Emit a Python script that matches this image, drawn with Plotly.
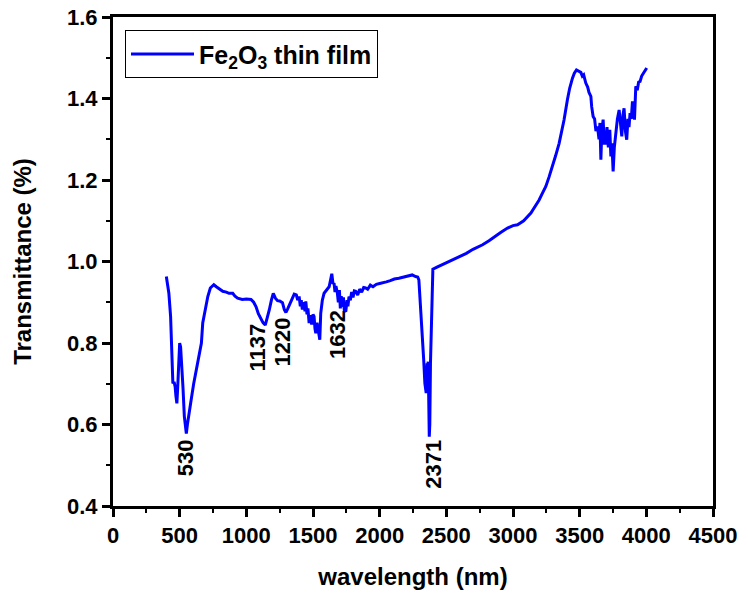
import plotly.graph_objects as go

wavelength = [
    400, 410, 419, 432, 440, 449, 458, 466, 472, 479, 485, 492, 500, 507, 513, 519, 525, 535, 545, 550,
    558, 570, 586, 605, 624, 643, 655, 663, 673, 690, 711, 730, 756, 775, 800, 823, 850, 870, 898, 915,
    935, 970, 1000, 1035, 1055, 1073, 1090, 1110, 1125, 1142, 1155, 1172, 1188, 1202, 1218, 1234, 1250,
    1271, 1285, 1297, 1310, 1322, 1340, 1359, 1375, 1385, 1396, 1405, 1412, 1420, 1430, 1440, 1446, 1455,
    1462, 1471, 1480, 1490, 1500, 1508, 1515, 1521, 1530, 1540, 1551, 1558, 1570, 1583, 1600, 1621, 1632,
    1641, 1650, 1658, 1665, 1672, 1683, 1690, 1698, 1705, 1712, 1720, 1728, 1735, 1746, 1755, 1762, 1770,
    1780, 1790, 1800, 1810, 1820, 1835, 1850, 1865, 1880, 1895, 1910, 1930, 1950, 1975, 2000, 2019, 2050,
    2080, 2110, 2144, 2180, 2215, 2244, 2269, 2285, 2294, 2305, 2319, 2330, 2339, 2345, 2349, 2353, 2356,
    2360, 2364, 2368, 2372, 2376, 2381, 2390, 2399, 2430, 2468, 2520, 2572, 2650, 2700, 2772, 2820, 2859,
    2910, 2959, 3000, 3034, 3080, 3134, 3165, 3196, 3220, 3246, 3270, 3296, 3320, 3346, 3365, 3383, 3408,
    3425, 3446, 3460, 3476, 3490, 3509, 3520, 3530, 3546, 3560, 3570, 3584, 3590, 3601, 3612, 3622, 3634,
    3645, 3652, 3659, 3666, 3676, 3685, 3696, 3705, 3715, 3726, 3734, 3742, 3751, 3760, 3771, 3783, 3796,
    3805, 3816, 3825, 3833, 3843, 3853, 3862, 3870, 3878, 3887, 3896, 3904, 3911, 3921, 3932, 3942, 3953,
    3965, 3978, 3990, 4003,
]

transmittance = [
    0.963, 0.945, 0.922, 0.865, 0.780, 0.701, 0.705, 0.693, 0.670, 0.652, 0.690, 0.760, 0.800, 0.790, 0.760, 0.740, 0.690, 0.620, 0.585, 0.578,
    0.600, 0.630, 0.660, 0.700, 0.734, 0.767, 0.790, 0.800, 0.849, 0.880, 0.914, 0.935, 0.943, 0.938, 0.932, 0.927, 0.925, 0.922, 0.922, 0.915,
    0.910, 0.907, 0.908, 0.907, 0.900, 0.889, 0.872, 0.857, 0.850, 0.844, 0.858, 0.881, 0.905, 0.922, 0.910, 0.904, 0.903,
    0.899, 0.882, 0.875, 0.884, 0.893, 0.910, 0.920, 0.918, 0.905, 0.914, 0.890, 0.905, 0.882, 0.900, 0.878, 0.902, 0.870,
    0.885, 0.849, 0.868, 0.845, 0.870, 0.865, 0.835, 0.824, 0.850, 0.830, 0.808, 0.873, 0.905, 0.922, 0.930, 0.938, 0.955,
    0.970, 0.945, 0.947, 0.925, 0.940, 0.922, 0.900, 0.930, 0.885, 0.915, 0.889, 0.912, 0.880, 0.877, 0.905, 0.890, 0.914,
    0.905, 0.925, 0.912, 0.928, 0.927, 0.918, 0.932, 0.925, 0.936, 0.935, 0.932, 0.942, 0.938, 0.944, 0.946, 0.947, 0.950,
    0.953, 0.957, 0.959, 0.962, 0.965, 0.967, 0.963, 0.962, 0.955, 0.900, 0.832, 0.760, 0.701, 0.680, 0.677, 0.720, 0.750,
    0.745, 0.754, 0.680, 0.570, 0.600, 0.750, 0.900, 0.981, 0.986, 0.992, 1.000, 1.008, 1.020, 1.030, 1.041, 1.051, 1.061,
    1.072, 1.082, 1.088, 1.090, 1.100, 1.119, 1.135, 1.151, 1.167, 1.184, 1.207, 1.233, 1.260, 1.290, 1.320, 1.348, 1.397,
    1.425, 1.450, 1.462, 1.470, 1.468, 1.464, 1.455, 1.458, 1.438, 1.428, 1.415, 1.405, 1.380, 1.356, 1.350, 1.320, 1.331,
    1.300, 1.340, 1.250, 1.320, 1.348, 1.290, 1.290, 1.330, 1.280, 1.323, 1.258, 1.290, 1.221, 1.280, 1.315, 1.350, 1.372,
    1.340, 1.307, 1.360, 1.376, 1.320, 1.299, 1.350, 1.330, 1.364, 1.350, 1.393, 1.380, 1.348, 1.430, 1.420, 1.440, 1.442,
    1.455, 1.462, 1.470, 1.475,
]

peak_labels = ["530", "1137", "1220", "1632", "2371"]
peak_label_x = [550, 1080, 1273, 1688, 2397]
peak_label_y = [0.518, 0.789, 0.803, 0.820, 0.503]

x_ticks = [0, 500, 1000, 1500, 2000, 2500, 3000, 3500, 4000, 4500]
y_ticks = [0.4, 0.6, 0.8, 1.0, 1.2, 1.4, 1.6]

FONT = "Liberation Sans, Arial, sans-serif"

fig = go.Figure()
fig.add_trace(go.Scatter(
    x=wavelength, y=transmittance, mode="lines",
    line=dict(color="#0000FF", width=3),
    name="<b>Fe<sub>2</sub>O<sub>3</sub> thin film</b>",
))

for lab, lx, ly in zip(peak_labels, peak_label_x, peak_label_y):
    fig.add_annotation(x=lx, y=ly, text="<b>" + lab + "</b>", showarrow=False,
                       textangle=-90, xanchor="center", yanchor="middle",
                       font=dict(family=FONT, size=22, color="black"))

axis_common = dict(
    showgrid=False, zeroline=False, showline=True, linecolor="black", linewidth=3,
    mirror=True, ticks="outside", ticklen=8, tickwidth=3, tickcolor="black",
    tickfont=dict(family=FONT, size=22, color="black"), automargin=False,
    ticklabeloverflow="allow",
)

fig.update_xaxes(
    range=[0, 4500], tickvals=x_ticks, ticktext=["<b>%d</b>" % v for v in x_ticks],
    minor=dict(dtick=250, ticklen=4, tickwidth=2, tickcolor="black", ticks="outside"),
    title=dict(text="<b>wavelength (nm)</b>", font=dict(family=FONT, size=24, color="black"), standoff=21),
    **axis_common,
)
fig.update_yaxes(
    range=[0.4, 1.6], tickvals=y_ticks, ticktext=["<b>%.1f</b>" % v for v in y_ticks],
    minor=dict(dtick=0.1, ticklen=4, tickwidth=2, tickcolor="black", ticks="outside"),
    title=dict(text="<b>Transmittance (%)</b>", font=dict(family=FONT, size=24, color="black"), standoff=29),
    **axis_common,
)

fig.update_layout(
    width=748, height=596,
    margin=dict(l=113, r=35, t=17, b=90, autoexpand=False),
    plot_bgcolor="white", paper_bgcolor="white",
    showlegend=True,
    legend=dict(x=0.02, y=0.973, xanchor="left", yanchor="top",
                bordercolor="black", borderwidth=1, bgcolor="white",
                font=dict(family=FONT, size=25, color="black"), itemwidth=63),
)

# Remove the page's default 8px body margin so the figure sits at the window's corner.
fig.write_html("out.html", config={"displayModeBar": False},
               post_script="document.body.style.margin='0';")
